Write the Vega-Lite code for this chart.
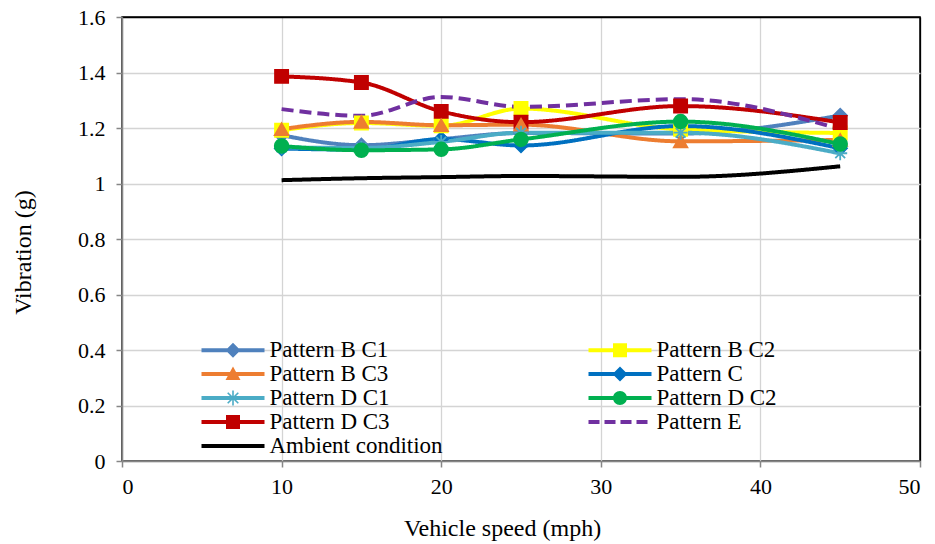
{
  "$schema": "https://vega.github.io/schema/vega-lite/v6.json",
  "width": 798,
  "height": 444,
  "autosize": "none",
  "padding": {"left": 122, "top": 17, "right": 15, "bottom": 83},
  "background": "white",
  "config": {
    "font": "Liberation Serif",
    "view": {"stroke": "#000000", "strokeWidth": 1.5}
  },
  "data": {
    "values": [
      {"series": "Pattern B C1", "speed": 10, "vib": 1.174},
      {"series": "Pattern B C1", "speed": 15, "vib": 1.138},
      {"series": "Pattern B C1", "speed": 20, "vib": 1.16},
      {"series": "Pattern B C1", "speed": 25, "vib": 1.182},
      {"series": "Pattern B C1", "speed": 35, "vib": 1.18},
      {"series": "Pattern B C1", "speed": 45, "vib": 1.245},
      {"series": "Pattern B C2", "speed": 10, "vib": 1.192},
      {"series": "Pattern B C2", "speed": 15, "vib": 1.218},
      {"series": "Pattern B C2", "speed": 20, "vib": 1.208},
      {"series": "Pattern B C2", "speed": 25, "vib": 1.27},
      {"series": "Pattern B C2", "speed": 35, "vib": 1.195},
      {"series": "Pattern B C2", "speed": 45, "vib": 1.182},
      {"series": "Pattern B C3", "speed": 10, "vib": 1.196},
      {"series": "Pattern B C3", "speed": 15, "vib": 1.222},
      {"series": "Pattern B C3", "speed": 20, "vib": 1.21},
      {"series": "Pattern B C3", "speed": 25, "vib": 1.212},
      {"series": "Pattern B C3", "speed": 35, "vib": 1.152},
      {"series": "Pattern B C3", "speed": 45, "vib": 1.157},
      {"series": "Pattern C", "speed": 10, "vib": 1.126},
      {"series": "Pattern C", "speed": 15, "vib": 1.122},
      {"series": "Pattern C", "speed": 20, "vib": 1.16},
      {"series": "Pattern C", "speed": 25, "vib": 1.137},
      {"series": "Pattern C", "speed": 35, "vib": 1.207},
      {"series": "Pattern C", "speed": 45, "vib": 1.127},
      {"series": "Pattern D C1", "speed": 10, "vib": 1.13},
      {"series": "Pattern D C1", "speed": 15, "vib": 1.128},
      {"series": "Pattern D C1", "speed": 20, "vib": 1.15},
      {"series": "Pattern D C1", "speed": 25, "vib": 1.183},
      {"series": "Pattern D C1", "speed": 35, "vib": 1.183},
      {"series": "Pattern D C1", "speed": 45, "vib": 1.109},
      {"series": "Pattern D C2", "speed": 10, "vib": 1.135},
      {"series": "Pattern D C2", "speed": 15, "vib": 1.12},
      {"series": "Pattern D C2", "speed": 20, "vib": 1.123},
      {"series": "Pattern D C2", "speed": 25, "vib": 1.159},
      {"series": "Pattern D C2", "speed": 35, "vib": 1.223},
      {"series": "Pattern D C2", "speed": 45, "vib": 1.142},
      {"series": "Pattern D C3", "speed": 10, "vib": 1.386},
      {"series": "Pattern D C3", "speed": 15, "vib": 1.364},
      {"series": "Pattern D C3", "speed": 20, "vib": 1.26},
      {"series": "Pattern D C3", "speed": 25, "vib": 1.221},
      {"series": "Pattern D C3", "speed": 35, "vib": 1.279},
      {"series": "Pattern D C3", "speed": 45, "vib": 1.22},
      {"series": "Pattern E", "speed": 10, "vib": 1.268},
      {"series": "Pattern E", "speed": 15, "vib": 1.244},
      {"series": "Pattern E", "speed": 20, "vib": 1.312},
      {"series": "Pattern E", "speed": 25, "vib": 1.276},
      {"series": "Pattern E", "speed": 35, "vib": 1.304},
      {"series": "Pattern E", "speed": 45, "vib": 1.196},
      {"series": "Ambient condition", "speed": 10, "vib": 1.012},
      {"series": "Ambient condition", "speed": 15, "vib": 1.019},
      {"series": "Ambient condition", "speed": 20, "vib": 1.023},
      {"series": "Ambient condition", "speed": 25, "vib": 1.027},
      {"series": "Ambient condition", "speed": 35, "vib": 1.024},
      {"series": "Ambient condition", "speed": 45, "vib": 1.062}
    ]
  },
  "encoding": {
    "x": {
      "field": "speed",
      "type": "quantitative",
      "scale": {"domain": [0, 50], "nice": false},
      "axis": {
        "title": "Vehicle speed (mph)",
        "values": [0, 10, 20, 30, 40, 50],
        "labelFont": "Liberation Serif",
        "labelFontSize": 22,
        "labelColor": "#000000",
        "titleFont": "Liberation Serif",
        "titleFontSize": 24,
        "titleFontWeight": "normal",
        "titleColor": "#000000",
        "domainColor": "#868686",
        "domainWidth": 1.5,
        "tickColor": "#868686",
        "tickWidth": 1.5,
        "tickSize": 6,
        "gridWidth": 1.3,
        "labelPadding": 9,
        "titleX": 380,
        "titleY": 55,
        "titleAlign": "center",
        "gridColor": {"condition": {"test": "datum.value == 50", "value": "#000000"}, "value": "#d4d4d4"}
      }
    },
    "y": {
      "field": "vib",
      "type": "quantitative",
      "scale": {"domain": [0, 1.6], "nice": false, "zero": true},
      "axis": {
        "title": "Vibration (g)",
        "values": [0, 0.2, 0.4, 0.6, 0.8, 1, 1.2, 1.4, 1.6],
        "format": "~g",
        "labelFont": "Liberation Serif",
        "labelFontSize": 22,
        "labelColor": "#000000",
        "titleFont": "Liberation Serif",
        "titleFontSize": 24,
        "titleFontWeight": "normal",
        "titleColor": "#000000",
        "domainColor": "#868686",
        "domainWidth": 1.5,
        "tickColor": "#868686",
        "tickWidth": 1.5,
        "tickSize": 6,
        "gridWidth": 1.3,
        "labelPadding": 11,
        "titleX": -87,
        "titleY": 235,
        "titleAlign": "center",
        "gridColor": {"condition": {"test": "datum.value == 1.6", "value": "#000000"}, "value": "#d4d4d4"}
      }
    }
  },
  "layer": [
    {
      "mark": {"type": "line", "interpolate": "monotone", "strokeWidth": 4, "strokeCap": "butt"},
      "encoding": {
        "stroke": {
          "field": "series",
          "type": "nominal",
          "scale": {
            "domain": ["Ambient condition", "Pattern E", "Pattern D C3", "Pattern D C2", "Pattern D C1", "Pattern C", "Pattern B C3", "Pattern B C2", "Pattern B C1"],
            "range": ["#000000", "#7030a0", "#c00000", "#00b050", "#4bacc6", "#0070c0", "#ed7d31", "#ffff00", "#4f81bd"]
          },
          "legend": null
        },
        "strokeDash": {
          "field": "series",
          "type": "nominal",
          "scale": {
            "domain": ["Ambient condition", "Pattern E", "Pattern D C3", "Pattern D C2", "Pattern D C1", "Pattern C", "Pattern B C3", "Pattern B C2", "Pattern B C1"],
            "range": [[1, 0], [12, 6], [1, 0], [1, 0], [1, 0], [1, 0], [1, 0], [1, 0], [1, 0]]
          },
          "legend": null
        }
      }
    },
    {
      "transform": [{"filter": "datum.series == 'Pattern B C1' || datum.series == 'Pattern C'"}],
      "mark": {"type": "point", "filled": true, "size": 196, "strokeWidth": 1.5, "opacity": 1, "shape": "diamond"},
      "encoding": {
        "fill": {"field": "series", "type": "nominal", "legend": null,
          "scale": {
            "domain": ["Ambient condition", "Pattern E", "Pattern D C3", "Pattern D C2", "Pattern D C1", "Pattern C", "Pattern B C3", "Pattern B C2", "Pattern B C1"],
            "range": ["#000000", "#7030a0", "#c00000", "#00b050", "#4bacc6", "#0070c0", "#ed7d31", "#ffff00", "#4f81bd"]
          }},
        "stroke": {"field": "series", "type": "nominal", "legend": null}
      }
    },
    {
      "transform": [{"filter": "datum.series == 'Pattern B C2' || datum.series == 'Pattern D C3'"}],
      "mark": {"type": "point", "filled": true, "size": 180, "strokeWidth": 1.5, "opacity": 1, "shape": "square"},
      "encoding": {
        "fill": {"field": "series", "type": "nominal", "legend": null},
        "stroke": {"field": "series", "type": "nominal", "legend": null}
      }
    },
    {
      "transform": [{"filter": "datum.series == 'Pattern B C3'"}],
      "mark": {"type": "point", "filled": true, "size": 196, "strokeWidth": 1.5, "opacity": 1, "shape": "triangle-up"},
      "encoding": {
        "fill": {"field": "series", "type": "nominal", "legend": null},
        "stroke": {"field": "series", "type": "nominal", "legend": null}
      }
    },
    {
      "transform": [{"filter": "datum.series == 'Pattern D C1'"}],
      "mark": {"type": "point", "filled": false, "size": 196, "strokeWidth": 1.8, "opacity": 1, "shape": "M-1,0H1M0,-1V1M-0.7,-0.7L0.7,0.7M-0.7,0.7L0.7,-0.7"},
      "encoding": {
        "stroke": {"field": "series", "type": "nominal", "legend": null}
      }
    },
    {
      "transform": [{"filter": "datum.series == 'Pattern D C2'"}],
      "mark": {"type": "point", "filled": true, "size": 196, "strokeWidth": 1.5, "opacity": 1, "shape": "circle"},
      "encoding": {
        "fill": {"field": "series", "type": "nominal", "legend": null},
        "stroke": {"field": "series", "type": "nominal", "legend": null}
      }
    },
    {
      "transform": [{"filter": "datum.speed > 100"}],
      "mark": {"type": "point", "filled": true, "opacity": 1},
      "encoding": {
        "color": {
          "field": "series",
          "type": "nominal",
          "scale": {
            "domain": ["Pattern B C1", "Pattern B C2", "Pattern B C3", "Pattern C", "Pattern D C1", "Pattern D C2", "Pattern D C3", "Pattern E", "Ambient condition"],
            "range": ["#4f81bd", "#ffff00", "#ed7d31", "#0070c0", "#4bacc6", "#00b050", "#c00000", "#7030a0", "#000000"]
          },
          "legend": {
            "orient": "none",
            "direction": "horizontal",
            "legendX": 99.5,
            "legendY": 321.5,
            "title": null,
            "columns": 2,
            "columnPadding": 145,
            "rowPadding": -2,
            "labelOffset": 25,
            "labelFontSize": 23,
            "labelLimit": 300,
            "labelFont": "Liberation Serif",
            "labelColor": "#000000"
          }
        },
        "shape": {
          "field": "series",
          "type": "nominal",
          "scale": {
            "domain": ["Pattern B C1", "Pattern B C2", "Pattern B C3", "Pattern C", "Pattern D C1", "Pattern D C2", "Pattern D C3", "Pattern E", "Ambient condition"],
            "range": [
              "M-6.3,-0.4H6.3V0.4H-6.3Z M-1.5,0L0,-1.5L1.5,0L0,1.5Z",
              "M-6.3,-0.4H6.3V0.4H-6.3Z M-1.4,-1.4H1.4V1.4H-1.4Z",
              "M-6.3,-0.4H6.3V0.4H-6.3Z M0,-1.5L1.5,1.2H-1.5Z",
              "M-6.3,-0.4H6.3V0.4H-6.3Z M-1.5,0L0,-1.5L1.5,0L0,1.5Z",
              "M-6.3,-0.4H6.3V0.4H-6.3Z M-0.16,-1.5H0.16V1.5H-0.16Z M-1.174,-0.946L-0.946,-1.174L1.174,0.946L0.946,1.174Z M-0.946,1.174L-1.174,0.946L0.946,-1.174L1.174,-0.946Z",
              "M-6.3,-0.4H6.3V0.4H-6.3Z M1.4,0A1.4,1.4 0 1,1 -1.4,0A1.4,1.4 0 1,1 1.4,0Z",
              "M-6.3,-0.4H6.3V0.4H-6.3Z M-1.4,-1.4H1.4V1.4H-1.4Z",
              "M-6.3,-0.4H-4.1V0.4H-6.3Z M-3.1,-0.4H-0.9V0.4H-3.1Z M0.1,-0.4H2.3V0.4H0.1Z M3.3,-0.4H5.5V0.4H3.3Z",
              "M-6.3,-0.4H6.3V0.4H-6.3Z"
            ]
          }
        }
      }
    }
  ]
}
